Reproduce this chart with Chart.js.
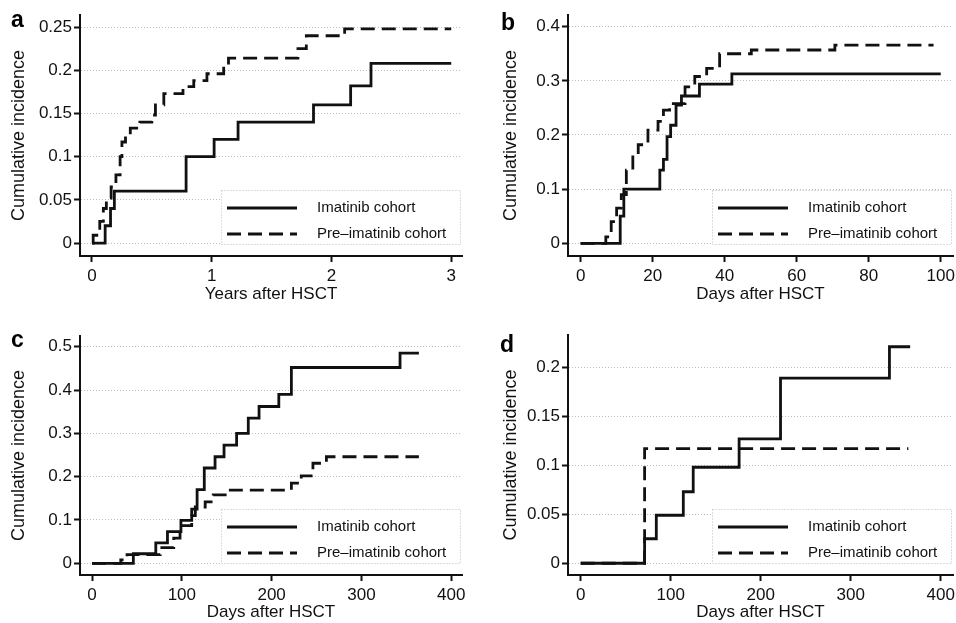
<!DOCTYPE html>
<html>
<head>
<meta charset="utf-8">
<script src="https://cdn.jsdelivr.net/npm/chart.js@4.4.1/dist/chart.umd.min.js"></script>
<style>
  html, body { margin: 0; padding: 0; background: #fff; overflow: hidden; }
  #wrap { position: relative; width: 956px; height: 623px; overflow: hidden; }
  #wrap canvas { position: absolute; }
  .tag { position: absolute; font: bold 23px 'Liberation Sans', Arial, sans-serif; line-height: 22px; color: #000; }
</style>
</head>
<body>
<div id="wrap">
  <canvas id="chart-a" width="478" height="311" style="left:0;top:0"></canvas>
  <canvas id="chart-b" width="500" height="311" style="left:478px;top:0"></canvas>
  <canvas id="chart-c" width="478" height="312" style="left:0;top:311px"></canvas>
  <canvas id="chart-d" width="500" height="312" style="left:478px;top:311px"></canvas>
  <div class="tag" style="left:11px;top:8px">a</div>
  <div class="tag" style="left:501px;top:11px">b</div>
  <div class="tag" style="left:11px;top:328px">c</div>
  <div class="tag" style="left:500px;top:333px">d</div>
</div>
<script>
// Series names and axis titles
const seriesLabels = ['Imatinib cohort', 'Pre–imatinib cohort'];
const yTitle = 'Cumulative incidence';
const xTitles = ['Years after HSCT', 'Days after HSCT', 'Days after HSCT', 'Days after HSCT'];

// Panel a (years)
const aImatinibX = [0, 0.11, 0.155, 0.187, 0.786, 1.02, 1.22, 1.85, 2.16, 2.33, 3.0];
const aImatinibY = [0, 0.02, 0.04, 0.06, 0.10, 0.12, 0.14, 0.16, 0.182, 0.208, 0.208];
const aPreX = [0, 0.01, 0.065, 0.095, 0.12, 0.16, 0.2, 0.235, 0.25, 0.28, 0.32, 0.40, 0.50, 0.53, 0.60, 0.76, 0.85, 0.96, 1.10, 1.14, 1.72, 1.79, 2.11, 3.0];
const aPreY = [0, 0.009, 0.025, 0.04, 0.052, 0.065, 0.079, 0.10, 0.117, 0.125, 0.133, 0.140, 0.148, 0.160, 0.173, 0.181, 0.188, 0.196, 0.206, 0.214, 0.225, 0.240, 0.248, 0.248];
const aXTicks = [0, 1, 2, 3];
const aYTicks = [0, 0.05, 0.1, 0.15, 0.2, 0.25];

// Panel b (days)
const bImatinibX = [0, 11, 12, 22, 23, 24, 25, 26.5, 28, 33, 42, 100];
const bImatinibY = [0, 0.05, 0.10, 0.135, 0.155, 0.197, 0.218, 0.255, 0.272, 0.294, 0.313, 0.313];
const bPreX = [0, 7, 8.5, 10, 11.3, 12.7, 14.5, 16, 18.7, 21.5, 23, 24.7, 29, 31.7, 35, 38.6, 47.4, 70.6, 98];
const bPreY = [0, 0.012, 0.04, 0.065, 0.09, 0.135, 0.163, 0.182, 0.209, 0.225, 0.246, 0.258, 0.289, 0.308, 0.323, 0.35, 0.357, 0.366, 0.366];
const bXTicks = [0, 20, 40, 60, 80, 100];
const bYTicks = [0, 0.1, 0.2, 0.3, 0.4];

// Panel c (days)
const cImatinibX = [0, 46, 71, 84, 99, 111, 117, 125, 137, 147, 161, 174, 186, 208, 222, 343, 364];
const cImatinibY = [0, 0.022, 0.047, 0.073, 0.099, 0.125, 0.17, 0.22, 0.246, 0.273, 0.30, 0.335, 0.362, 0.39, 0.452, 0.485, 0.485];
const cPreX = [0, 32, 39, 76, 91, 98, 111, 115, 126, 135, 154, 222, 233, 246, 261, 364];
const cPreY = [0, 0.008, 0.02, 0.036, 0.058, 0.087, 0.11, 0.13, 0.142, 0.158, 0.169, 0.185, 0.202, 0.231, 0.246, 0.246];
const cXTicks = [0, 100, 200, 300, 400];
const cYTicks = [0, 0.1, 0.2, 0.3, 0.4, 0.5];

// Panel d (days)
const dImatinibX = [0, 71, 84, 114, 125, 176, 222, 343, 366];
const dImatinibY = [0, 0.025, 0.049, 0.073, 0.098, 0.127, 0.189, 0.221, 0.221];
const dPreX = [0, 71, 364];
const dPreY = [0, 0.117, 0.117];
const dXTicks = [0, 100, 200, 300, 400];
const dYTicks = [0, 0.05, 0.1, 0.15, 0.2];

const FONT = "'Liberation Sans', Arial, Helvetica, sans-serif";
const INK = '#111';

function toPoints(xs, ys) {
    return xs.map((x, i) => ({ x: x, y: ys[i] }));
}

// Legend drawn inside the plot, bottom right, on a white box with a dotted frame
const legendBox = {
    id: 'legendBox',
    afterDatasetsDraw(chart) {
        const { ctx, chartArea } = chart;
        const right = chartArea.right - 1;
        const bottom = chartArea.bottom - 11;
        const left = right - 240;
        const top = bottom - 55;
        ctx.save();
        ctx.fillStyle = '#fff';
        ctx.fillRect(left, top, right - left, bottom - top);
        ctx.setLineDash([1, 2]);
        ctx.strokeStyle = '#bbb';
        ctx.lineWidth = 1;
        ctx.strokeRect(left + 0.5, top + 0.5, right - left - 1, bottom - top - 1);
        chart.data.datasets.forEach((ds, i) => {
            const y = top + 18 + i * 26;
            ctx.setLineDash(ds.borderDash || []);
            ctx.lineWidth = ds.borderWidth;
            ctx.strokeStyle = ds.borderColor;
            ctx.beginPath();
            ctx.moveTo(left + 6, y);
            ctx.lineTo(left + 76, y);
            ctx.stroke();
            ctx.setLineDash([]);
            ctx.fillStyle = INK;
            ctx.font = '15px ' + FONT;
            ctx.textBaseline = 'middle';
            ctx.fillText(ds.label, left + 96, y);
        });
        ctx.restore();
    }
};

/**
 * Build one panel
 * @param {string} id - canvas id
 * @param {Object} p - series, ticks, axis ranges and box sizes
 */
function makePanel(id, p) {
    const ctx = document.getElementById(id).getContext('2d');
    return new Chart(ctx, {
        type: 'line',
        data: {
            datasets: [{
                label: seriesLabels[0],
                data: toPoints(p.imX, p.imY),
                borderColor: INK,
                borderWidth: 2.8,
                borderDash: [],
                stepped: true,
                pointRadius: 0,
                fill: false
            }, {
                label: seriesLabels[1],
                data: toPoints(p.preX, p.preY),
                borderColor: INK,
                borderWidth: 2.8,
                borderDash: [14, 7],
                stepped: true,
                pointRadius: 0,
                fill: false
            }]
        },
        options: {
            responsive: false,
            animation: false,
            devicePixelRatio: 1,
            layout: { padding: p.pad },
            plugins: { legend: { display: false }, tooltip: { enabled: false } },
            elements: { line: { borderJoinStyle: 'miter', borderCapStyle: 'butt' } },
            scales: {
                x: {
                    type: 'linear',
                    min: p.xMin,
                    max: p.xMax,
                    afterBuildTicks: s => { s.ticks = p.xTicks.map(v => ({ value: v })); },
                    afterFit: s => { s.height = p.xH; },
                    grid: { drawOnChartArea: false, drawTicks: true, tickLength: 6, tickColor: INK, tickWidth: 2, tickBorderDash: [] },
                    border: { display: true, color: INK, width: 2 },
                    ticks: { color: INK, font: { size: 17, family: FONT }, padding: 4, maxRotation: 0, autoSkip: false, callback: v => String(v) },
                    title: { display: true, text: p.xTitle, color: INK, font: { size: 17, family: FONT }, padding: { top: 0, bottom: p.xTitlePad } }
                },
                y: {
                    type: 'linear',
                    min: p.yMin,
                    max: p.yMax,
                    afterBuildTicks: s => { s.ticks = p.yTicks.map(v => ({ value: v })); },
                    afterFit: s => { s.width = p.yW; },
                    grid: { color: '#bdbdbd', lineWidth: 1, drawTicks: true, tickLength: 6, tickColor: INK, tickWidth: 2, tickBorderDash: [] },
                    border: { display: true, color: INK, width: 2, dash: [1, 2] },
                    ticks: { color: INK, font: { size: 17, family: FONT }, padding: 2, callback: v => String(v) },
                    title: { display: true, text: yTitle, color: INK, font: { size: 18, family: FONT }, padding: { top: 8, bottom: 0 } }
                }
            }
        },
        plugins: [legendBox]
    });
}

makePanel('chart-a', {
    imX: aImatinibX, imY: aImatinibY, preX: aPreX, preY: aPreY,
    xTicks: aXTicks, yTicks: aYTicks, xTitle: xTitles[0],
    xMin: -0.1, xMax: 3.09, yMin: -0.015, yMax: 0.264,
    pad: { left: 0, top: 15, right: 16, bottom: 0 }, yW: 80, xH: 55, xTitlePad: 6
});
makePanel('chart-b', {
    imX: bImatinibX, imY: bImatinibY, preX: bPreX, preY: bPreY,
    xTicks: bXTicks, yTicks: bYTicks, xTitle: xTitles[1],
    xMin: -3.5, xMax: 103.4, yMin: -0.0235, yMax: 0.4216,
    pad: { left: 14, top: 15, right: 25, bottom: 0 }, yW: 76, xH: 55, xTitlePad: 6
});
makePanel('chart-c', {
    imX: cImatinibX, imY: cImatinibY, preX: cPreX, preY: cPreY,
    xTicks: cXTicks, yTicks: cYTicks, xTitle: xTitles[2],
    xMin: -13.4, xMax: 412, yMin: -0.027, yMax: 0.5247,
    pad: { left: 0, top: 25, right: 16, bottom: 0 }, yW: 80, xH: 48, xTitlePad: 0
});
makePanel('chart-d', {
    imX: dImatinibX, imY: dImatinibY, preX: dPreX, preY: dPreY,
    xTicks: dXTicks, yTicks: dYTicks, xTitle: xTitles[3],
    xMin: -14.1, xMax: 413.6, yMin: -0.012, yMax: 0.233,
    pad: { left: 14, top: 24, right: 25, bottom: 0 }, yW: 76, xH: 48, xTitlePad: 0
});
</script>
</body>
</html>
